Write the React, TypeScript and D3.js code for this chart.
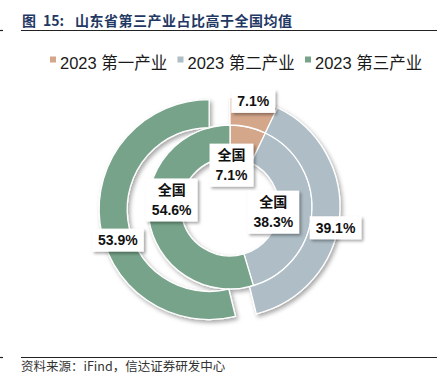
import React from 'react';
import * as d3 from 'd3';

// ---- data ----
const categories = ['2023 第一产业', '2023 第二产业', '2023 第三产业'];
const shandongShares = [7.1, 39.1, 53.9]; // outer ring (山东)
const nationalShares = [7.1, 38.3, 54.6]; // inner ring (全国)
const nationalTag = '全国';
const titlePrefix = '图';
const titleNumber = '15:';
const titleMain = '山东省第三产业占比高于全国均值';
const sourceText = '资料来源：iFind，信达证券研发中心';

// ---- styles / layout ----
const W = 447;
const H = 391;
const colors = ['#d4a68a', '#aebdc6', '#76a389'];
const cx = 230;
const cy = 207;
const innerR0 = 49;
const innerR1 = 82;
const outerR0 = 82;
const outerR1 = 110;
const outerExplode = [0, 0, 21];
const outerLabelOffset: [number, number][] = [[2, -12], [10, 11], [4, 19]];
const innerLabelOffset: [number, number][] = [[-13, 22], [-22, 0], [6.5, -16.5]];
const labelFont = '"Liberation Sans", Arial, "Noto Sans CJK SC", sans-serif';
const cjkFont = '"Liberation Sans", Arial, "Noto Sans CJK SC", sans-serif';

function estWidth(s: string, size: number) {
  let w = 0;
  for (const ch of s) {
    if (/[0-9]/.test(ch)) w += 0.556 * size;
    else if (ch === '.') w += 0.278 * size;
    else if (ch === '%') w += 0.889 * size;
    else w += size;
  }
  return w;
}

const fmt = (v: number) => `${v.toFixed(1)}%`;

function Label({ x, y, lines }: { x: number; y: number; lines: string[] }) {
  const fs = 14;
  const lh = 20;
  const w = Math.max(...lines.map((l) => estWidth(l, fs))) + 12;
  const h = lines.length * lh + 3;
  return (
    <g>
      <rect x={x - w / 2} y={y - h / 2} width={w} height={h} fill="#fff" filter="url(#boxShadow)" />
      {lines.map((l, i) => (
        <text
          key={i}
          x={x}
          y={y + (i - (lines.length - 1) / 2) * lh + 5}
          textAnchor="middle"
          fontFamily={labelFont}
          fontWeight={700}
          fontSize={fs}
          fill="#111"
        >
          {l}
        </text>
      ))}
    </g>
  );
}

export default function App() {
  const pie = d3.pie<number>().sort(null).value((d) => d);
  const outerArcs = pie(shandongShares);
  const innerArcs = pie(nationalShares);
  const outerArc = d3.arc<d3.PieArcDatum<number>>().innerRadius(outerR0).outerRadius(outerR1);
  const innerArc = d3.arc<d3.PieArcDatum<number>>().innerRadius(innerR0).outerRadius(innerR1);

  const shift = (a: d3.PieArcDatum<number>, d: number): [number, number] => {
    const m = (a.startAngle + a.endAngle) / 2;
    return [Math.sin(m) * d, -Math.cos(m) * d];
  };

  const legendX0 = 50;
  const legendStep = 127.5;

  return (
    <svg
      width={W}
      height={H}
      viewBox={`0 0 ${W} ${H}`}
      style={{ position: 'absolute', left: 0, top: 0, background: '#fff' }}
    >
      <defs>
        <filter id="ringShadow" x="-20%" y="-20%" width="140%" height="140%">
          <feDropShadow dx="2" dy="2.5" stdDeviation="2" floodColor="#000" floodOpacity="0.35" />
        </filter>
        <filter id="boxShadow" x="-30%" y="-30%" width="160%" height="160%">
          <feDropShadow dx="2" dy="2" stdDeviation="1.6" floodColor="#000" floodOpacity="0.35" />
        </filter>
      </defs>

      {/* title */}
      <text y={26} fontFamily='"Noto Sans CJK SC", sans-serif' fontWeight={700} fontSize={14} fill="#1f3864">
        <tspan x={22}>{titlePrefix}</tspan>
        <tspan x={43}>{titleNumber}</tspan>
        <tspan x={75} letterSpacing={0.5}>{titleMain}</tspan>
      </text>
      <line x1={21} x2={437} y1={30.5} y2={30.5} stroke="#222" strokeWidth={1.2} />
      <line x1={0} x2={3} y1={30.5} y2={30.5} stroke="#222" strokeWidth={1.2} />

      {/* legend */}
      {categories.map((c, i) => (
        <g key={c} transform={`translate(${legendX0 + i * legendStep},0)`}>
          <rect x={0} y={56.5} width={6} height={6} fill={colors[i]} />
          <text x={10} y={69} fontFamily={cjkFont} fontSize={16.5} fill="#1a1a1a">
            {c}
          </text>
        </g>
      ))}

      {/* rings */}
      <g transform={`translate(${cx},${cy})`}>
        <g filter="url(#ringShadow)">
          {innerArcs.map((a, i) => (
            <path key={'in' + i} d={innerArc(a) || ''} fill={colors[i]} stroke="#fff" strokeWidth={1.3} />
          ))}
          {outerArcs.map((a, i) => {
            const [dx, dy] = shift(a, outerExplode[i]);
            return (
              <path
                key={'out' + i}
                d={outerArc(a) || ''}
                transform={`translate(${dx},${dy})`}
                fill={colors[i]}
                stroke="#fff"
                strokeWidth={1.3}
              />
            );
          })}
        </g>
        {outerArcs.map((a, i) => {
          const [dx, dy] = shift(a, outerExplode[i]);
          const [px, py] = outerArc.centroid(a);
          return (
            <Label
              key={'ol' + i}
              x={px + dx + outerLabelOffset[i][0]}
              y={py + dy + outerLabelOffset[i][1]}
              lines={[fmt(shandongShares[i])]}
            />
          );
        })}
        {innerArcs.map((a, i) => {
          const [px, py] = innerArc.centroid(a);
          return (
            <Label
              key={'il' + i}
              x={px + innerLabelOffset[i][0]}
              y={py + innerLabelOffset[i][1]}
              lines={[nationalTag, fmt(nationalShares[i])]}
            />
          );
        })}
      </g>

      {/* source */}
      <line x1={21} x2={437} y1={357.5} y2={357.5} stroke="#222" strokeWidth={1.2} />
      <line x1={0} x2={3} y1={357.5} y2={357.5} stroke="#222" strokeWidth={1.2} />
      <text x={21} y={371} fontFamily='"Noto Sans CJK SC", sans-serif' fontSize={12.5} fill="#333">
        {sourceText}
      </text>
    </svg>
  );
}
